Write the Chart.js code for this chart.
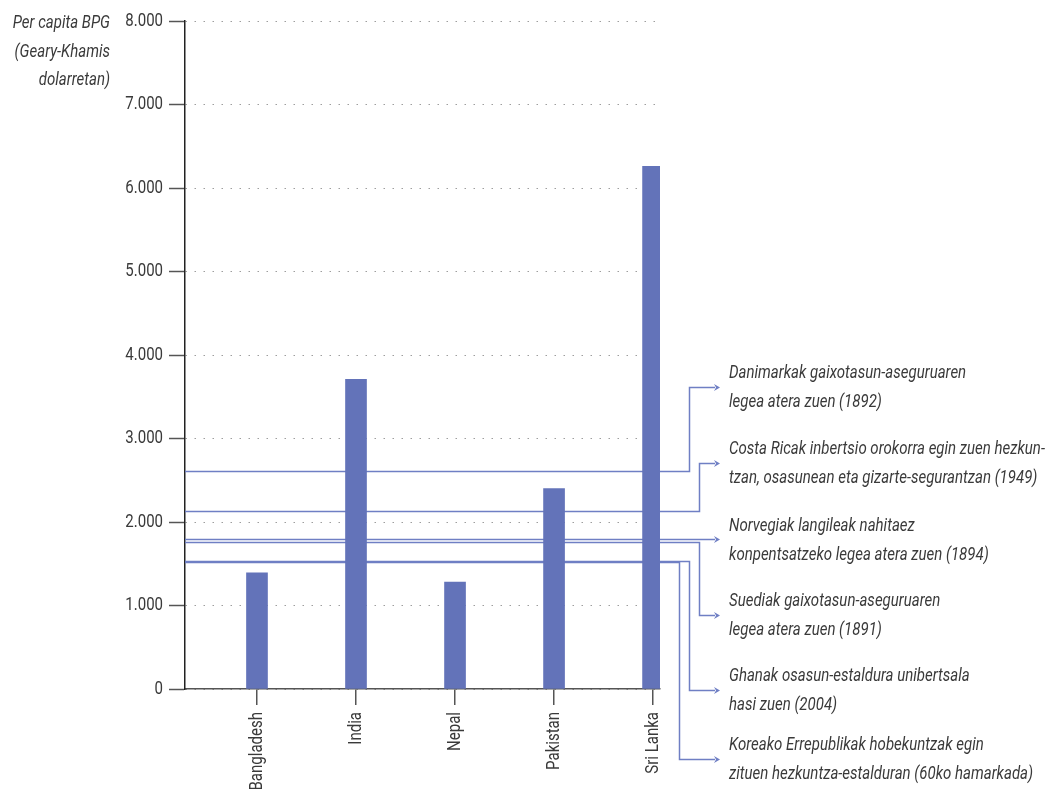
<!DOCTYPE html>
<html>
<head>
<meta charset="utf-8">
<style>
html, body { margin: 0; padding: 0; background: #fff; overflow: hidden; }
#wrap { width: 1055px; height: 789px; }
</style>
<script src="https://cdn.jsdelivr.net/npm/chart.js@4.4.1/dist/chart.umd.min.js"></script>
</head>
<body>
<div id="wrap"><canvas id="myChart" width="1055" height="789"></canvas></div>
<script>
// data
const countries = ['Bangladesh', 'India', 'Nepal', 'Pakistan', 'Sri Lanka'];
const gdpValues = [1390, 3710, 1280, 2400, 6260];
const yTicks = [0, 1000, 2000, 3000, 4000, 5000, 6000, 7000, 8000];

// reference levels (GDP per capita when the reform happened)
const refValues = [2615, 2135, 1793, 1757, 1533, 1522];
const refLabels = [
    ['Danimarkak gaixotasun-aseguruaren', 'legea atera zuen (1892)'],
    ['Costa Ricak inbertsio orokorra egin zuen hezkun-', 'tzan, osasunean eta gizarte-segurantzan (1949)'],
    ['Norvegiak langileak nahitaez', 'konpentsatzeko legea atera zuen (1894)'],
    ['Suediak gaixotasun-aseguruaren', 'legea atera zuen (1891)'],
    ['Ghanak osasun-estaldura unibertsala', 'hasi zuen (2004)'],
    ['Koreako Errepublikak hobekuntzak egin', 'zituen hezkuntza-estalduran (60ko hamarkada)']
];
const yTitle = ['Per capita BPG', '(Geary-Khamis', 'dolarretan)'];

// layout of the callouts (pixels)
const calloutY = [387, 463, 540, 615, 690, 759];
const elbowOffset = [29, 39, null, 39, 29, 19];

const FONT = "Roboto, 'Noto Sans', sans-serif";
const SQUEEZE = 0.79;   // fake a condensed face
const barColor = '#6373b9';
const refColor = '#6f7fc4';
const textColor = '#3a3a3a';

function fmt(v) {
    return String(v).replace(/\B(?=(\d{3})+(?!\d))/g, '.');
}

function squeezed(ctx, str, x, y, align, rot) {
    ctx.save();
    ctx.translate(x, y);
    if (rot) ctx.rotate(rot);
    ctx.scale(SQUEEZE, 1);
    ctx.textAlign = align;
    ctx.fillText(str, 0, 0);
    ctx.restore();
}

const labelsPlugin = {
    id: 'labelsPlugin',
    beforeDatasetsDraw(chart) {
        const ctx = chart.ctx;
        const area = chart.chartArea;
        const y = chart.scales.y;
        const arrowX = area.right + 60;
        ctx.save();
        ctx.strokeStyle = refColor;
        ctx.fillStyle = refColor;
        ctx.lineWidth = 1.5;
        for (let i = 0; i < refValues.length; i++) {
            const py = Math.round(y.getPixelForValue(refValues[i])) + 0.5;
            const ty = calloutY[i] + 0.5;
            ctx.beginPath();
            ctx.moveTo(area.left, py);
            if (elbowOffset[i] === null) {
                ctx.lineTo(arrowX - 5, py);
            } else {
                const ex = area.right + elbowOffset[i] + 0.5;
                ctx.lineTo(ex, py);
                ctx.lineTo(ex, ty);
                ctx.lineTo(arrowX - 5, ty);
            }
            ctx.stroke();
            const ay = elbowOffset[i] === null ? py : ty;
            ctx.beginPath();
            ctx.moveTo(arrowX, ay);
            ctx.lineTo(arrowX - 6, ay - 3.5);
            ctx.lineTo(arrowX - 4, ay);
            ctx.lineTo(arrowX - 6, ay + 3.5);
            ctx.closePath();
            ctx.fill();
        }
        ctx.restore();
    },
    afterDraw(chart) {
        const ctx = chart.ctx;
        const area = chart.chartArea;
        const xs = chart.scales.x, ys = chart.scales.y;
        ctx.save();
        ctx.fillStyle = textColor;
        ctx.textBaseline = 'alphabetic';

        // callout texts
        ctx.font = 'italic 19px ' + FONT;
        for (let i = 0; i < refLabels.length; i++) {
            squeezed(ctx, refLabels[i][0], area.right + 69, calloutY[i] - 9, 'left');
            squeezed(ctx, refLabels[i][1], area.right + 69, calloutY[i] + 20, 'left');
        }
        // y axis title
        for (let i = 0; i < yTitle.length; i++) {
            squeezed(ctx, yTitle[i], 110, 28 + i * 28.5, 'right');
        }

        // tick labels
        ctx.font = '19px ' + FONT;
        ctx.textBaseline = 'middle';
        yTicks.forEach(v => {
            squeezed(ctx, fmt(v), area.left - 22, ys.getPixelForValue(v), 'right');
        });
        countries.forEach((c, i) => {
            squeezed(ctx, c, xs.getPixelForValue(i), area.bottom + 23, 'right', -Math.PI / 2);
        });
        ctx.restore();
    }
};

const config = {
    type: 'bar',
    data: {
        datasets: [{
            data: countries.map((c, i) => ({ x: i, y: gdpValues[i] })),
            backgroundColor: barColor,
            barThickness: 21
        }]
    },
    options: {
        responsive: false,
        animation: false,
        layout: { padding: { top: 21, right: 395, left: 0, bottom: 0 } },
        plugins: { legend: { display: false }, tooltip: { enabled: false } },
        scales: {
            x: {
                type: 'linear',
                offset: false,
                min: -0.727,
                max: 4.07,
                afterBuildTicks: axis => { axis.ticks = countries.map((c, i) => ({ value: i })); },
                afterFit: s => { s.height = 100; },
                grid: { offset: false, drawOnChartArea: false, drawTicks: true, tickLength: 16, color: '#555', tickColor: '#555', lineWidth: 1.5 },
                border: { color: '#555', width: 1.5 },
                ticks: { display: false, autoSkip: false }
            },
            y: {
                min: 0,
                max: 8000,
                z: 1,
                afterBuildTicks: axis => { axis.ticks = yTicks.map(v => ({ value: v })); },
                afterFit: s => { s.width = 185; },
                grid: {
                    color: 'rgba(0,0,0,0.38)',
                    lineWidth: 1,
                    tickLength: 16,
                    tickColor: '#555',
                    tickWidth: 1.5,
                    tickBorderDash: []
                },
                border: { color: '#222', width: 1.5, dash: [1.5, 7.5] },
                ticks: { display: false }
            }
        }
    },
    plugins: [labelsPlugin]
};

let ctxEl = document.getElementById('myChart');
var myChart = new Chart(ctxEl, config);
</script>
</body>
</html>
